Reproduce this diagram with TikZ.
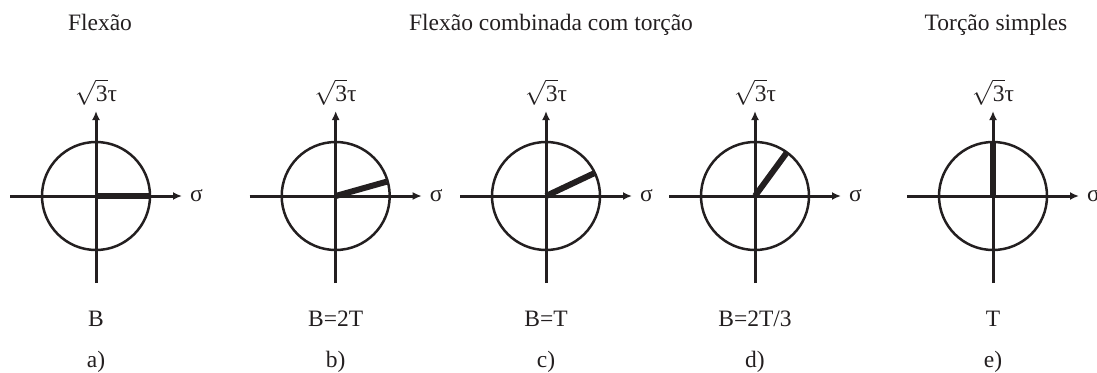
\documentclass[tikz,border=0pt]{standalone}
\usepackage{fontspec}
\setmainfont{Liberation Serif}
\usetikzlibrary{arrows.meta}
\definecolor{ink}{HTML}{231F20}
\begin{document}
\begin{tikzpicture}[x=1pt,y=-1pt,
  every node/.style={font=\fontsize{23.5}{28}\selectfont, text=ink, inner sep=0pt},
  axis/.style={draw=ink, line width=3pt, -{Latex[length=9pt,width=8pt]}},
  ring/.style={draw=ink, line width=2.5pt},
  bar/.style={draw=ink, line width=6pt}]
\useasboundingbox (0,0) rectangle (1097,372);
\node[anchor=base] (t1) at (100,30) {Flexão};
\node[anchor=base] (t2) at (551,30) {Flexão combinada com torção};
\node[anchor=base] (t3) at (996,30) {Torção simples};
\foreach \cx/\ang/\lab/\lt [count=\i] in {96/0/B/a, 335.7/15.7/{B=2T}/b, 546/25.3/{B=T}/c, 755/53.8/{B=2T/3}/d, 993/90/T/e}{
  \coordinate (O\i) at (\cx,196);
  \coordinate (L\i) at (\cx-86,196);
  \coordinate (R\i) at (\cx+86,196);
  \coordinate (T\i) at (\cx,111);
  \coordinate (D\i) at (\cx,283);
  \draw[ring] (O\i) circle[radius=54];
  \draw[axis] (L\i) -- (R\i);
  \draw[axis] (D\i) -- (T\i);
  \draw[bar] (O\i) -- ++(-\ang:53);
  \node[anchor=base west] (s\i) at (\cx+94,201) {σ};
  \node[anchor=base] (q\i) at (\cx,101) {$\sqrt{\mbox{3}}$τ};
  \node[anchor=base] (b\i) at (\cx,326) {\lab};
  \node[anchor=base] (l\i) at (\cx,367) {\lt)};
}
\end{tikzpicture}
\end{document}
